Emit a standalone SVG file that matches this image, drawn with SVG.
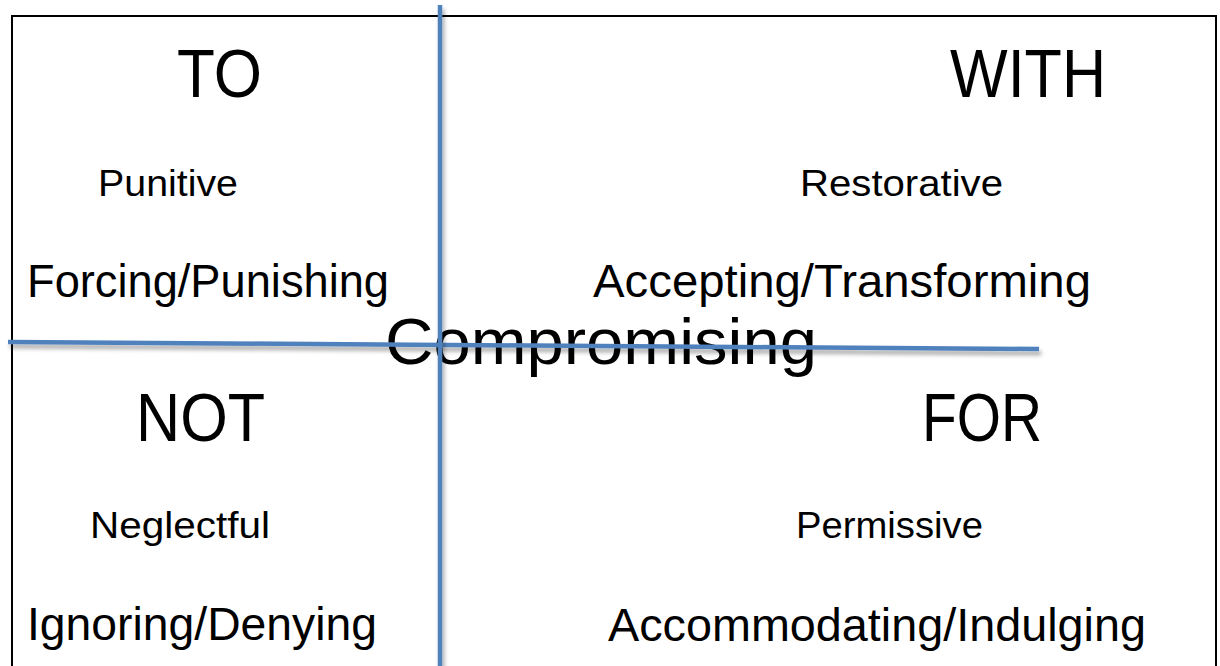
<svg xmlns="http://www.w3.org/2000/svg" width="1220" height="666" viewBox="0 0 1220 666">
  <style>
    text { font-family: "Liberation Sans", Arial, sans-serif; fill: #000; }
    .head { font-size: 69px; }
    .sub { font-size: 36px; }
    .mode { font-size: 46px; }
    .mid { font-size: 64px; }
    .axis { stroke: #4F81BD; stroke-width: 4.5; fill: none; filter: url(#shadow); }
  </style>
  <defs>
    <!-- user-space region so the zero-width vertical axis still gets its shadow -->
    <filter id="shadow" filterUnits="userSpaceOnUse" x="0" y="0" width="1220" height="680">
      <feDropShadow dx="2" dy="4" stdDeviation="2.2" flood-color="#000" flood-opacity="0.35"/>
    </filter>
  </defs>

  <rect width="1220" height="666" fill="#fff"/>
  <!-- outer frame, bottom edge runs off the page -->
  <rect x="12" y="16" width="1204" height="670" fill="none" stroke="#000" stroke-width="2"/>

  <g id="to">
    <text class="head" x="177" y="97" textLength="85" lengthAdjust="spacingAndGlyphs">TO</text>
    <text class="sub" x="98" y="196" textLength="140" lengthAdjust="spacingAndGlyphs">Punitive</text>
    <text class="mode" x="27" y="297" textLength="362" lengthAdjust="spacingAndGlyphs">Forcing/Punishing</text>
  </g>

  <g id="with">
    <text class="head" x="950" y="97" textLength="156" lengthAdjust="spacingAndGlyphs">WITH</text>
    <text class="sub" x="800" y="196" textLength="203" lengthAdjust="spacingAndGlyphs">Restorative</text>
    <text class="mode" x="593" y="297" textLength="498" lengthAdjust="spacingAndGlyphs">Accepting/Transforming</text>
  </g>

  <g id="not">
    <text class="head" x="136" y="441" textLength="129" lengthAdjust="spacingAndGlyphs">NOT</text>
    <text class="sub" x="90" y="538" textLength="180" lengthAdjust="spacingAndGlyphs">Neglectful</text>
    <text class="mode" x="27" y="640" textLength="350" lengthAdjust="spacingAndGlyphs">Ignoring/Denying</text>
  </g>

  <g id="for">
    <text class="head" x="922" y="441" textLength="120" lengthAdjust="spacingAndGlyphs">FOR</text>
    <text class="sub" x="796" y="538" textLength="187" lengthAdjust="spacingAndGlyphs">Permissive</text>
    <text class="mode" x="608" y="641" textLength="538" lengthAdjust="spacingAndGlyphs">Accommodating/Indulging</text>
  </g>

  <g id="compromising">
    <text class="mid" x="385" y="364" textLength="432" lengthAdjust="spacingAndGlyphs">Compromising</text>
  </g>

  <g id="connectors">
    <line class="axis" x1="8" y1="342" x2="1039" y2="349"/>
    <line class="axis" x1="440" y1="5" x2="440" y2="670"/>
  </g>
</svg>
